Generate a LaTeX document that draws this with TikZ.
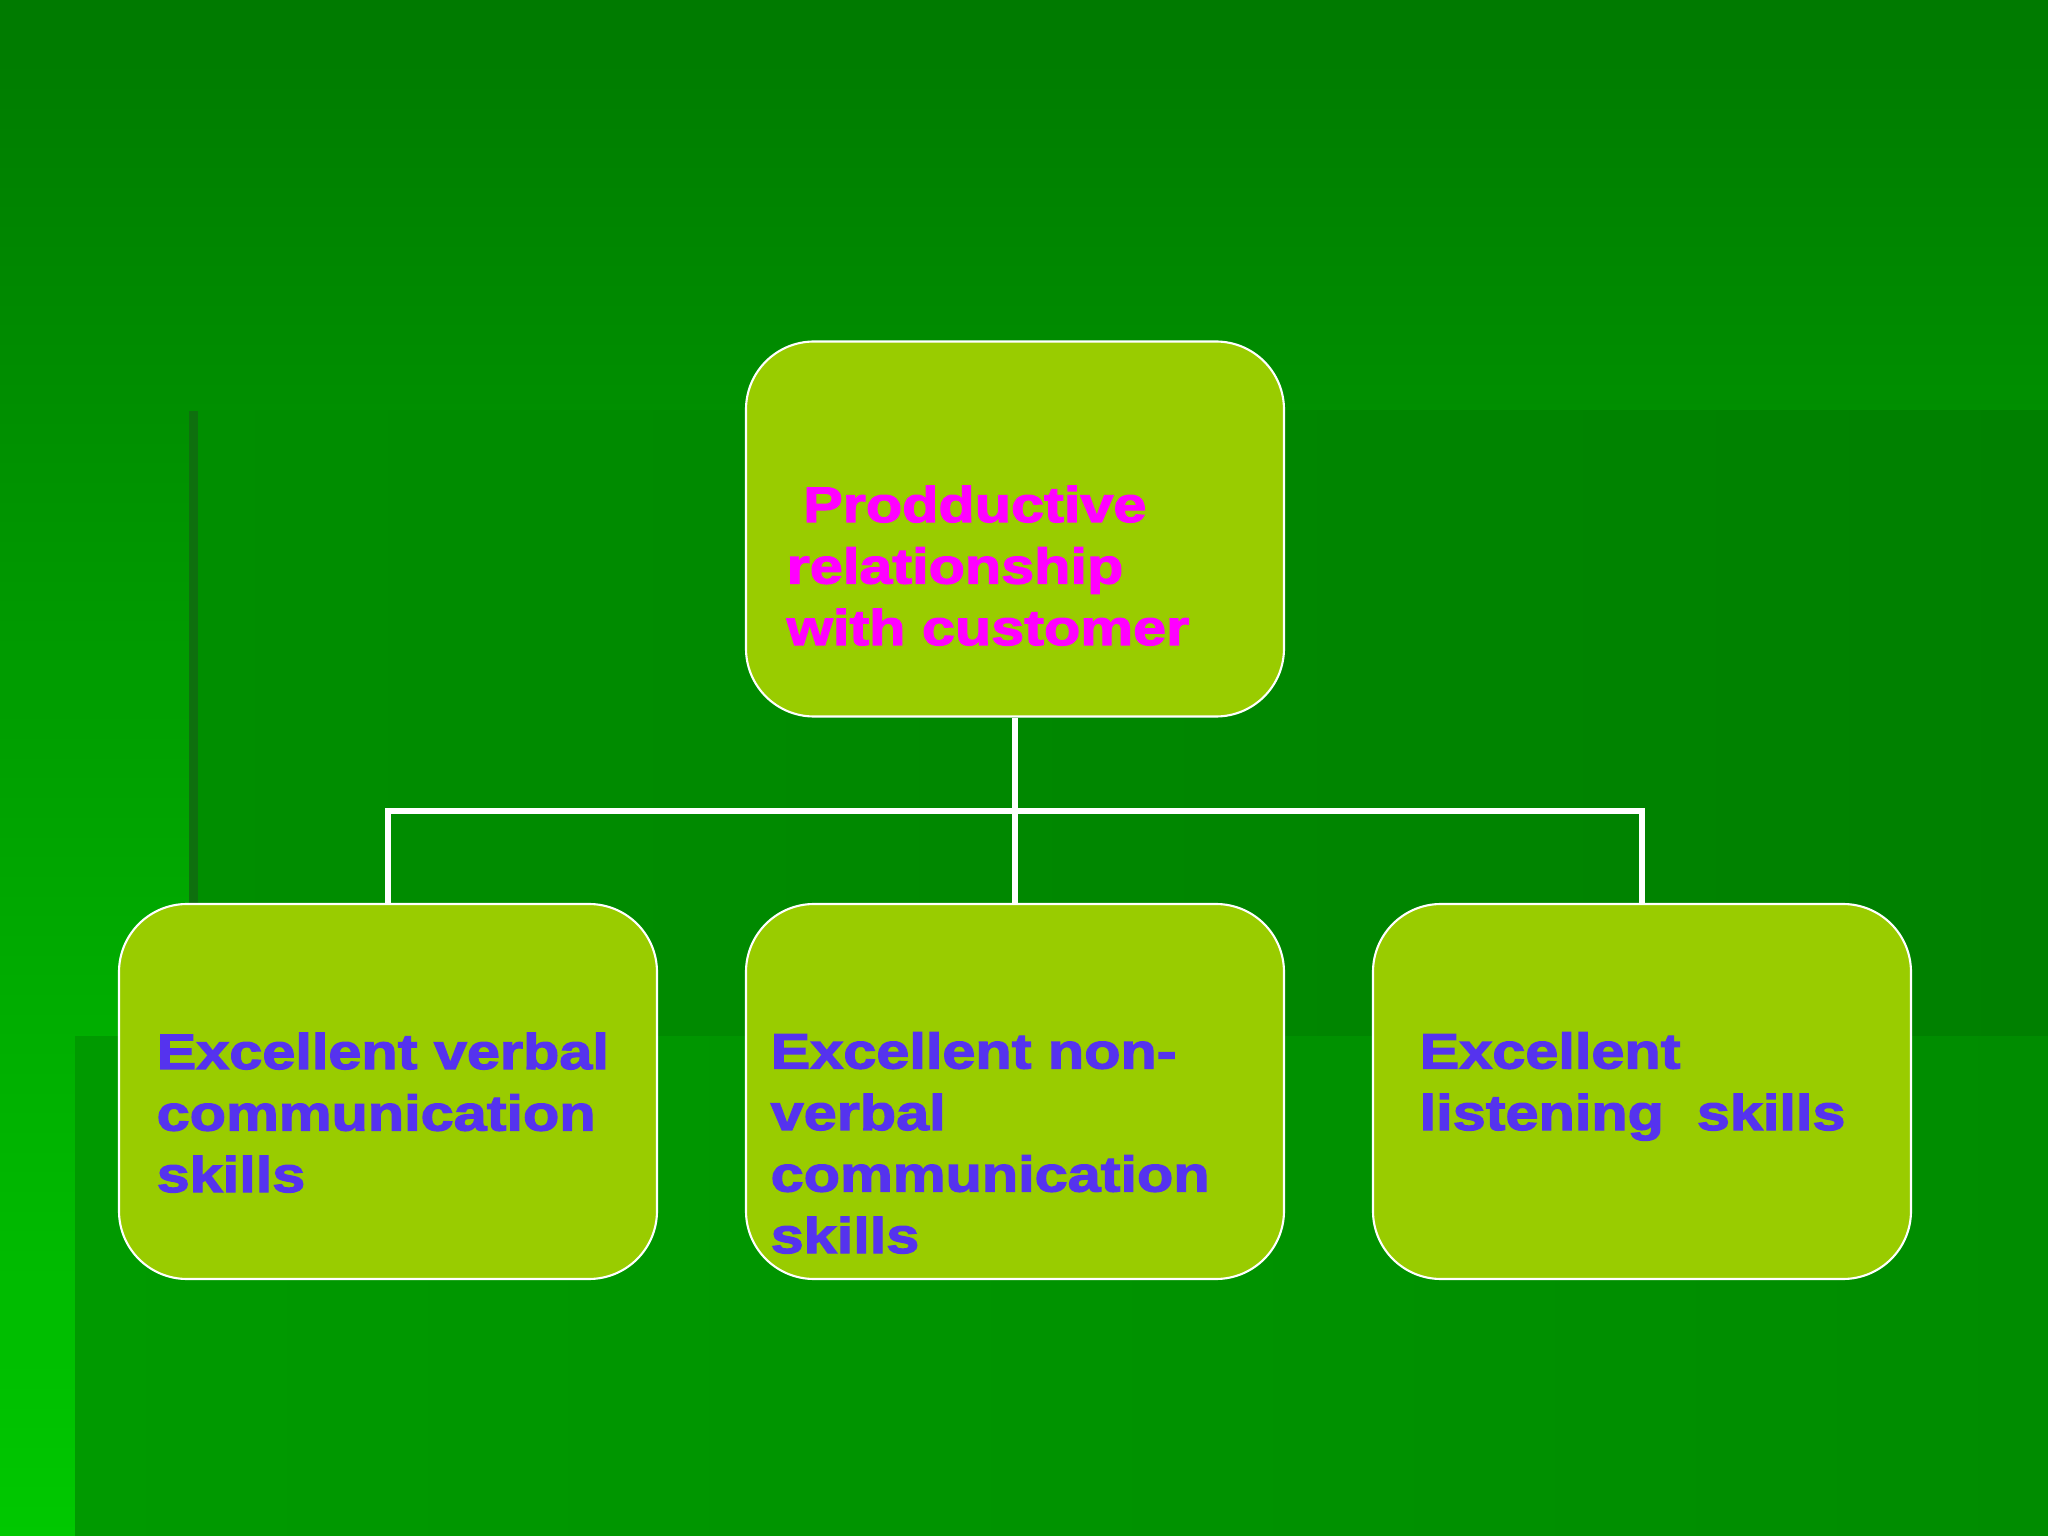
\documentclass[tikz,border=0pt]{standalone}
\usepackage{fontspec}
\newfontfamily\chartfont{Liberation Sans}[FakeStretch=1.19,FakeBold=2.5]
\definecolor{bgtop}{HTML}{007A00}
\definecolor{bgbottom}{HTML}{00C800}
\definecolor{paneleft}{HTML}{008E00}
\definecolor{paneright}{HTML}{008000}
\definecolor{panedge}{HTML}{0E700E}
\definecolor{lowleft}{HTML}{009A00}
\definecolor{lowright}{HTML}{008C00}
\definecolor{boxgreen}{HTML}{99CC00}
\definecolor{headpink}{HTML}{FF00FF}
\definecolor{skillblue}{HTML}{5533EE}
\begin{document}
\begin{tikzpicture}[
  chartbox/.style={draw=white,line width=0.6pt,fill=boxgreen,rounded corners=0.68cm,
    minimum width=5.38cm,minimum height=3.75cm,inner sep=0pt},
  boxtext/.style={anchor=base west,align=left,inner sep=0pt,
    font=\chartfont\bfseries\fontsize{14.2pt}{17.5pt}\selectfont},
  link/.style={draw=white,line width=1.5pt}]
  \useasboundingbox (0,0) rectangle (20.48,-15.36);
  % background panes
  \shade[top color=bgtop,bottom color=bgbottom] (0,0) rectangle (20.48,-15.36);
  \shade[left color=paneleft,right color=paneright] (1.89,-4.11) rectangle (20.48,-15.36);
  \fill[panedge] (1.89,-4.11) rectangle (1.98,-10.36);
  \shade[left color=lowleft,right color=lowright] (0.75,-10.36) rectangle (20.48,-15.36);

  \node[chartbox] (top) at (10.15,-5.29) {};
  \node[chartbox] (verbal) at (3.88,-10.915) {};
  \node[chartbox] (nonverbal) at (10.15,-10.915) {};
  \node[chartbox] (listening) at (16.42,-10.915) {};

  % base anchor sits on the last line
  \node[boxtext,text=headpink] (toptext) at (7.86,-6.45) {~Prodductive\\relationship\\with customer};
  \node[boxtext,text=skillblue] (verbaltext) at (1.56,-11.92) {Excellent verbal\\communication\\skills};
  \node[boxtext,text=skillblue] (nonverbaltext) at (7.70,-12.53) {Excellent non-\\verbal\\communication\\skills};
  \node[boxtext,text=skillblue] (listeningtext) at (14.19,-11.30) {Excellent\\listening~~skills};

  \coordinate (bus) at (10.15,-8.11);
  \draw[link] (top.south) -- (bus);
  \draw[link] (bus) -| (verbal.north);
  \draw[link] (bus) -| (listening.north);
  \draw[link] (bus) -- (nonverbal.north);
\end{tikzpicture}
\end{document}
